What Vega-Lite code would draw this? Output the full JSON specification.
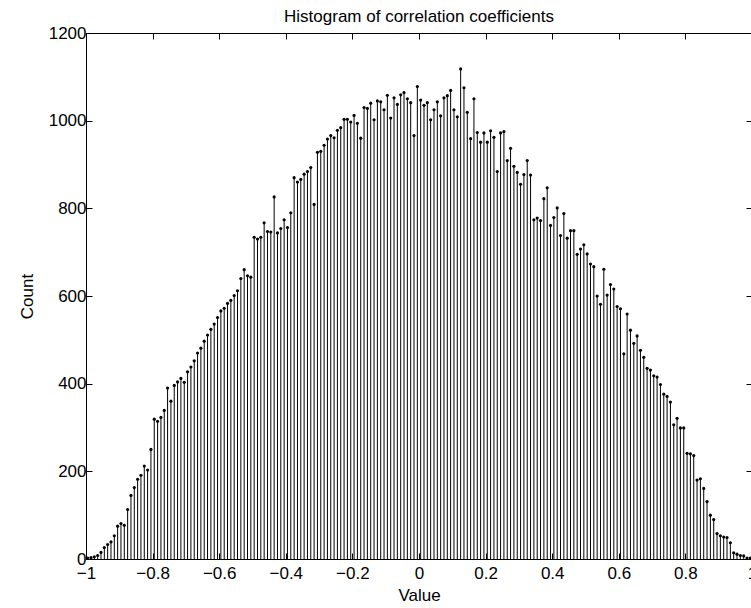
{
  "$schema": "https://vega.github.io/schema/vega-lite/v6.json",
  "width": 666,
  "height": 526,
  "autosize": {"type": "none"},
  "padding": {"left": 86, "top": 33, "right": 0, "bottom": 49},
  "background": "white",
  "title": {"text": "Histogram of correlation coefficients", "fontSize": 17, "font": "Liberation Sans", "fontWeight": "normal", "offset": 7, "baseline": "alphabetic", "dy": 22, "anchor": "middle", "color": "black"},
  "config": {
    "view": {"stroke": "black", "strokeWidth": 1},
    "axis": {"grid": false, "domainColor": "black", "tickColor": "black", "tickSize": -6, "tickWidth": 1, "labelColor": "black", "labelFont": "Liberation Sans", "labelFontSize": 17, "titleFont": "Liberation Sans", "titleFontSize": 17, "titleFontWeight": "normal", "titleColor": "black", "labelFlush": false, "labelOverlap": false, "labelBound": false}
  },
  "data": {"values": [
    {"v": -0.995, "c": 2}, {"v": -0.985, "c": 3}, {"v": -0.975, "c": 5}, {"v": -0.965, "c": 8}, {"v": -0.955, "c": 15},
    {"v": -0.945, "c": 26}, {"v": -0.935, "c": 33}, {"v": -0.925, "c": 39}, {"v": -0.915, "c": 53}, {"v": -0.905, "c": 75},
    {"v": -0.895, "c": 81}, {"v": -0.885, "c": 77}, {"v": -0.875, "c": 113}, {"v": -0.865, "c": 145}, {"v": -0.855, "c": 163},
    {"v": -0.845, "c": 182}, {"v": -0.835, "c": 191}, {"v": -0.825, "c": 212}, {"v": -0.815, "c": 203}, {"v": -0.805, "c": 250},
    {"v": -0.795, "c": 319}, {"v": -0.785, "c": 314}, {"v": -0.775, "c": 323}, {"v": -0.765, "c": 339}, {"v": -0.755, "c": 390},
    {"v": -0.745, "c": 360}, {"v": -0.735, "c": 396}, {"v": -0.725, "c": 404}, {"v": -0.715, "c": 412}, {"v": -0.705, "c": 403},
    {"v": -0.695, "c": 427}, {"v": -0.685, "c": 438}, {"v": -0.675, "c": 452}, {"v": -0.665, "c": 470}, {"v": -0.655, "c": 481},
    {"v": -0.645, "c": 497}, {"v": -0.635, "c": 511}, {"v": -0.625, "c": 524}, {"v": -0.615, "c": 536}, {"v": -0.605, "c": 551},
    {"v": -0.595, "c": 566}, {"v": -0.585, "c": 572}, {"v": -0.575, "c": 583}, {"v": -0.565, "c": 590}, {"v": -0.555, "c": 601},
    {"v": -0.545, "c": 612}, {"v": -0.535, "c": 640}, {"v": -0.525, "c": 660}, {"v": -0.515, "c": 646}, {"v": -0.505, "c": 643},
    {"v": -0.495, "c": 734}, {"v": -0.485, "c": 730}, {"v": -0.475, "c": 734}, {"v": -0.465, "c": 767}, {"v": -0.455, "c": 747},
    {"v": -0.445, "c": 746}, {"v": -0.435, "c": 826}, {"v": -0.425, "c": 744}, {"v": -0.415, "c": 754}, {"v": -0.405, "c": 774},
    {"v": -0.395, "c": 756}, {"v": -0.385, "c": 790}, {"v": -0.375, "c": 870}, {"v": -0.365, "c": 860}, {"v": -0.355, "c": 866},
    {"v": -0.345, "c": 878}, {"v": -0.335, "c": 884}, {"v": -0.325, "c": 893}, {"v": -0.315, "c": 809}, {"v": -0.305, "c": 928},
    {"v": -0.295, "c": 930}, {"v": -0.285, "c": 944}, {"v": -0.275, "c": 958}, {"v": -0.265, "c": 966}, {"v": -0.255, "c": 961},
    {"v": -0.245, "c": 978}, {"v": -0.235, "c": 984}, {"v": -0.225, "c": 1003}, {"v": -0.215, "c": 1003}, {"v": -0.205, "c": 997},
    {"v": -0.195, "c": 1012}, {"v": -0.185, "c": 994}, {"v": -0.175, "c": 960}, {"v": -0.165, "c": 1030}, {"v": -0.155, "c": 1028},
    {"v": -0.145, "c": 1040}, {"v": -0.135, "c": 1002}, {"v": -0.125, "c": 1045}, {"v": -0.115, "c": 1043}, {"v": -0.105, "c": 1025},
    {"v": -0.095, "c": 1058}, {"v": -0.085, "c": 1006}, {"v": -0.075, "c": 1052}, {"v": -0.065, "c": 1037}, {"v": -0.055, "c": 1059},
    {"v": -0.045, "c": 1064}, {"v": -0.035, "c": 1050}, {"v": -0.025, "c": 1041}, {"v": -0.015, "c": 966}, {"v": -0.005, "c": 1078},
    {"v": 0.005, "c": 1047}, {"v": 0.015, "c": 1035}, {"v": 0.025, "c": 1041}, {"v": 0.035, "c": 1002}, {"v": 0.045, "c": 1025},
    {"v": 0.055, "c": 1043}, {"v": 0.065, "c": 1011}, {"v": 0.075, "c": 1052}, {"v": 0.085, "c": 1057}, {"v": 0.095, "c": 1069},
    {"v": 0.105, "c": 1025}, {"v": 0.115, "c": 1009}, {"v": 0.125, "c": 1118}, {"v": 0.135, "c": 1075}, {"v": 0.145, "c": 1019},
    {"v": 0.155, "c": 959}, {"v": 0.165, "c": 1050}, {"v": 0.175, "c": 973}, {"v": 0.185, "c": 951}, {"v": 0.195, "c": 972},
    {"v": 0.205, "c": 951}, {"v": 0.215, "c": 977}, {"v": 0.225, "c": 962}, {"v": 0.235, "c": 884}, {"v": 0.245, "c": 972},
    {"v": 0.255, "c": 975}, {"v": 0.265, "c": 909}, {"v": 0.275, "c": 937}, {"v": 0.285, "c": 896}, {"v": 0.295, "c": 882},
    {"v": 0.305, "c": 855}, {"v": 0.315, "c": 877}, {"v": 0.325, "c": 909}, {"v": 0.335, "c": 876}, {"v": 0.345, "c": 774},
    {"v": 0.355, "c": 778}, {"v": 0.365, "c": 772}, {"v": 0.375, "c": 822}, {"v": 0.385, "c": 847}, {"v": 0.395, "c": 761},
    {"v": 0.405, "c": 779}, {"v": 0.415, "c": 801}, {"v": 0.425, "c": 738}, {"v": 0.435, "c": 788}, {"v": 0.445, "c": 732},
    {"v": 0.455, "c": 749}, {"v": 0.465, "c": 749}, {"v": 0.475, "c": 695}, {"v": 0.485, "c": 707}, {"v": 0.495, "c": 717},
    {"v": 0.505, "c": 696}, {"v": 0.515, "c": 673}, {"v": 0.525, "c": 667}, {"v": 0.535, "c": 600}, {"v": 0.545, "c": 581},
    {"v": 0.555, "c": 661}, {"v": 0.565, "c": 602}, {"v": 0.575, "c": 626}, {"v": 0.585, "c": 616}, {"v": 0.595, "c": 576},
    {"v": 0.605, "c": 571}, {"v": 0.615, "c": 468}, {"v": 0.625, "c": 559}, {"v": 0.635, "c": 522}, {"v": 0.645, "c": 492},
    {"v": 0.655, "c": 509}, {"v": 0.665, "c": 476}, {"v": 0.675, "c": 460}, {"v": 0.685, "c": 435}, {"v": 0.695, "c": 431},
    {"v": 0.705, "c": 418}, {"v": 0.715, "c": 415}, {"v": 0.725, "c": 398}, {"v": 0.735, "c": 376}, {"v": 0.745, "c": 371},
    {"v": 0.755, "c": 358}, {"v": 0.765, "c": 306}, {"v": 0.775, "c": 321}, {"v": 0.785, "c": 299}, {"v": 0.795, "c": 299},
    {"v": 0.805, "c": 241}, {"v": 0.815, "c": 240}, {"v": 0.825, "c": 236}, {"v": 0.835, "c": 180}, {"v": 0.845, "c": 183},
    {"v": 0.855, "c": 161}, {"v": 0.865, "c": 131}, {"v": 0.875, "c": 100}, {"v": 0.885, "c": 90}, {"v": 0.895, "c": 58},
    {"v": 0.905, "c": 53}, {"v": 0.915, "c": 50}, {"v": 0.925, "c": 49}, {"v": 0.935, "c": 37}, {"v": 0.945, "c": 14},
    {"v": 0.955, "c": 11}, {"v": 0.965, "c": 8}, {"v": 0.975, "c": 7}, {"v": 0.985, "c": 2}, {"v": 0.995, "c": 2}
  ]},
  "layer": [
    {
      "mark": {"type": "rule", "color": "black", "strokeWidth": 1},
      "encoding": {
        "x": {"field": "v", "type": "quantitative", "scale": {"domain": [-1, 1], "nice": false}, "axis": {"orient": "bottom", "title": "Value", "values": [-1, -0.8, -0.6, -0.4, -0.2, 0, 0.2, 0.4, 0.6, 0.8, 1], "format": "~g", "labelExpr": "datum.value < 0 ? datum.label + '\u2002\u2009' : datum.label", "labelPadding": 12, "titlePadding": 6}},
        "y": {"field": "c", "type": "quantitative", "scale": {"domain": [0, 1200], "nice": false}, "axis": {"orient": "left", "title": "Count", "values": [0, 200, 400, 600, 800, 1000, 1200], "format": "d", "labelPadding": 6, "titlePadding": 12}},
        "y2": {"datum": 0}
      }
    },
    {
      "mark": {"type": "point", "filled": true, "color": "black", "size": 10, "opacity": 1},
      "encoding": {
        "x": {"field": "v", "type": "quantitative", "scale": {"domain": [-1, 1], "nice": false}, "axis": {"orient": "top", "title": null, "labels": false, "values": [-1, -0.8, -0.6, -0.4, -0.2, 0, 0.2, 0.4, 0.6, 0.8, 1]}},
        "y": {"field": "c", "type": "quantitative", "scale": {"domain": [0, 1200], "nice": false}, "axis": {"orient": "right", "title": null, "labels": false, "values": [0, 200, 400, 600, 800, 1000, 1200]}}
      }
    }
  ],
  "resolve": {"axis": {"x": "independent", "y": "independent"}}
}
